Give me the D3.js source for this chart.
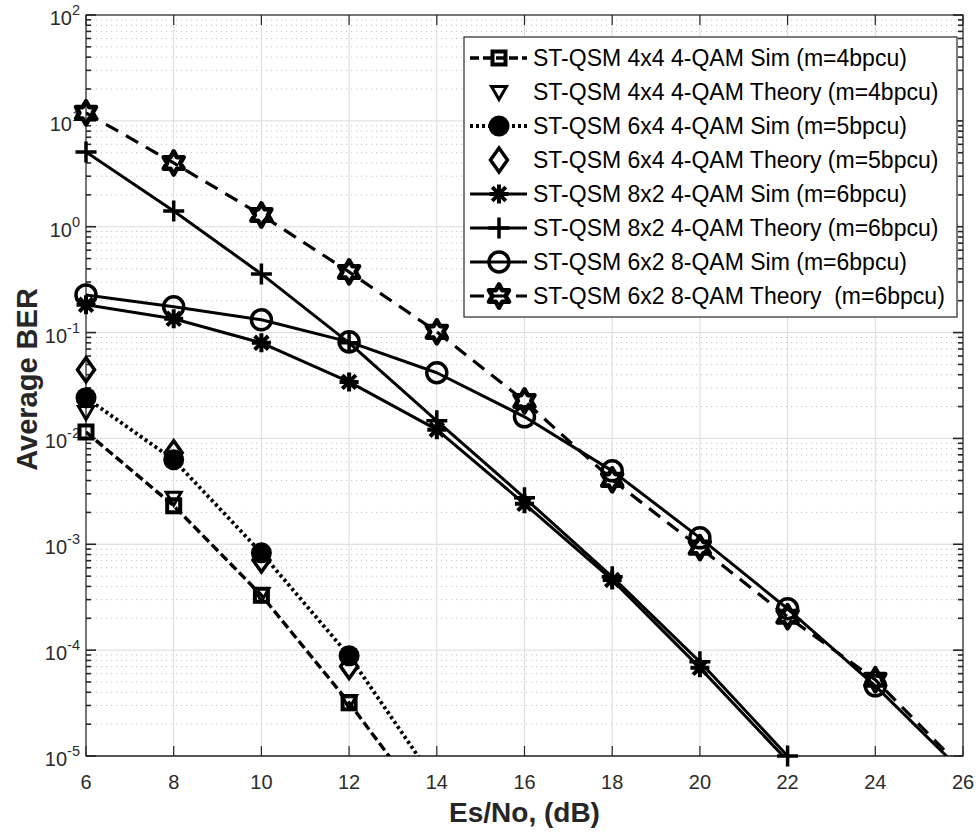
<!DOCTYPE html>
<html>
<head>
<meta charset="utf-8">
<script src="https://cdn.jsdelivr.net/npm/d3@7"></script>
<style>
  body { margin: 0; background: #fff; }
  svg { display: block; }
  text { font-family: "Liberation Sans", Arial, Helvetica, sans-serif; }
</style>
</head>
<body>
<div id="chart"></div>
<script>
// Es/No axis points (dB)
const snr = [6, 8, 10, 12, 14, 16, 18, 20, 22, 24, 26];
const xTicks = [6, 8, 10, 12, 14, 16, 18, 20, 22, 24, 26];
const yTickExps = [-5, -4, -3, -2, -1, 0, 1, 2];

const legendLabels = [
  "ST-QSM 4x4 4-QAM Sim (m=4bpcu)",
  "ST-QSM 4x4 4-QAM Theory (m=4bpcu)",
  "ST-QSM 6x4 4-QAM Sim (m=5bpcu)",
  "ST-QSM 6x4 4-QAM Theory (m=5bpcu)",
  "ST-QSM 8x2 4-QAM Sim (m=6bpcu)",
  "ST-QSM 8x2 4-QAM Theory (m=6bpcu)",
  "ST-QSM 6x2 8-QAM Sim (m=6bpcu)",
  "ST-QSM 6x2 8-QAM Theory  (m=6bpcu)"
];

// Average BER per Es/No point, aligned with snr
const ber4x4Sim    = [0.0115, 0.00231, 3.3e-4, 3.18e-5, 2.5e-6];
const ber4x4Theory = [0.0178, 0.00275, 3.4e-4, 3.3e-5];
const ber6x4Sim    = [0.0242, 0.00628, 8.3e-4, 8.85e-5, 5.5e-6];
const ber6x4Theory = [0.0445, 0.00731, 7.1e-4, 7.0e-5];
const ber8x2Sim    = [0.183, 0.135, 0.080, 0.0342, 0.0121, 0.00241, 4.6e-4, 6.8e-5, 9.0e-6];
const ber8x2Theory = [5.08, 1.41, 0.358, 0.080, 0.01466, 0.00275, 4.93e-4, 7.76e-5, 1.0e-5];
const ber6x2Sim    = [0.227, 0.175, 0.132, 0.0817, 0.0417, 0.016, 0.00494, 0.00115, 2.46e-4, 4.6e-5, 7.0e-6];
const ber6x2Theory = [11.9, 4.0, 1.29, 0.374, 0.1016, 0.0226, 0.00406, 9.3e-4, 2.07e-4, 5.25e-5, 7.5e-6];

const series = [
  { label: legendLabels[0], values: ber4x4Sim,    marker: "square",   line: true,  dash: "9,4",  width: 3.4 },
  { label: legendLabels[1], values: ber4x4Theory, marker: "triDown",  line: false },
  { label: legendLabels[2], values: ber6x4Sim,    marker: "dot",      line: true,  dash: "3,3",  width: 3.8 },
  { label: legendLabels[3], values: ber6x4Theory, marker: "diamond",  line: false },
  { label: legendLabels[4], values: ber8x2Sim,    marker: "asterisk", line: true,  dash: null,   width: 3 },
  { label: legendLabels[5], values: ber8x2Theory, marker: "plus",     line: true,  dash: null,   width: 3 },
  { label: legendLabels[6], values: ber6x2Sim,    marker: "circle",   line: true,  dash: null,   width: 3 },
  { label: legendLabels[7], values: ber6x2Theory, marker: "hexagram", line: true,  dash: "14,9", width: 3.2 }
];

const W = 979, H = 834;
const margin = { left: 86, top: 15, right: 16, bottom: 78 };
const pw = W - margin.left - margin.right;
const ph = H - margin.top - margin.bottom;

const svg = d3.select("#chart").append("svg").attr("width", W).attr("height", H);

const x = d3.scaleLinear().domain([6, 26]).range([margin.left, margin.left + pw]);
const y = d3.scaleLog().domain([1e-5, 1e2]).range([margin.top + ph, margin.top]);

// grid
const grid = svg.append("g");
const minorVals = [];
for (let e = -5; e < 2; e++) for (let k = 2; k <= 9; k++) minorVals.push(k * Math.pow(10, e));

grid.selectAll(".minor").data(minorVals).join("line")
  .attr("x1", margin.left).attr("x2", margin.left + pw)
  .attr("y1", d => y(d)).attr("y2", d => y(d))
  .attr("stroke", "#c4c4c4").attr("stroke-width", 1).attr("stroke-dasharray", "1.2,3.8");

grid.selectAll(".majY").data(yTickExps).join("line")
  .attr("x1", margin.left).attr("x2", margin.left + pw)
  .attr("y1", d => y(Math.pow(10, d))).attr("y2", d => y(Math.pow(10, d)))
  .attr("stroke", "#dcdcdc").attr("stroke-width", 1);

grid.selectAll(".majX").data(xTicks).join("line")
  .attr("x1", d => x(d)).attr("x2", d => x(d))
  .attr("y1", margin.top).attr("y2", margin.top + ph)
  .attr("stroke", "#dcdcdc").attr("stroke-width", 1);

// axes box and ticks
const axes = svg.append("g").attr("stroke", "#262626");
axes.append("rect").attr("x", margin.left).attr("y", margin.top).attr("width", pw).attr("height", ph)
  .attr("fill", "none").attr("stroke-width", 1.2);
axes.append("line").attr("x1", margin.left).attr("x2", margin.left + pw)
  .attr("y1", margin.top + ph).attr("y2", margin.top + ph).attr("stroke", "#555").attr("stroke-width", 2);

const xl = margin.left, xr = margin.left + pw, yt = margin.top, yb = margin.top + ph;
xTicks.forEach(t => {
  axes.append("line").attr("x1", x(t)).attr("x2", x(t)).attr("y1", yb).attr("y2", yb - 10).attr("stroke-width", 1.2);
  axes.append("line").attr("x1", x(t)).attr("x2", x(t)).attr("y1", yt).attr("y2", yt + 10).attr("stroke-width", 1.2);
});
yTickExps.forEach(e => {
  const yy = y(Math.pow(10, e));
  axes.append("line").attr("x1", xl).attr("x2", xl + 10).attr("y1", yy).attr("y2", yy).attr("stroke-width", 1.6);
  axes.append("line").attr("x1", xr).attr("x2", xr - 10).attr("y1", yy).attr("y2", yy).attr("stroke-width", 1.6);
});
minorVals.forEach(v => {
  const yy = y(v);
  axes.append("line").attr("x1", xl).attr("x2", xl + 5).attr("y1", yy).attr("y2", yy).attr("stroke-width", 1.6);
  axes.append("line").attr("x1", xr).attr("x2", xr - 5).attr("y1", yy).attr("y2", yy).attr("stroke-width", 1.6);
});

// tick labels
svg.append("g").selectAll("text").data(xTicks).join("text")
  .attr("x", d => x(d)).attr("y", yb + 33).attr("text-anchor", "middle")
  .attr("font-size", 20).attr("fill", "#2b2b2b").text(d => d);

svg.append("g").selectAll("text").data(yTickExps).join("text")
  .attr("x", margin.left - 6).attr("y", d => y(Math.pow(10, d)) + 10).attr("text-anchor", "end")
  .attr("fill", "#2b2b2b")
  .each(function (d) {
    const t = d3.select(this);
    t.append("tspan").attr("font-size", 20).text("10");
    t.append("tspan").attr("font-size", 14.5).attr("dy", -10).text(String(d));
  });

// axis titles
svg.append("text").attr("x", margin.left + pw / 2).attr("y", 822).attr("text-anchor", "middle")
  .attr("font-size", 28).attr("font-weight", "bold").attr("fill", "#262626").text("Es/No, (dB)");
svg.append("text").attr("transform", `translate(37,${margin.top + ph / 2 - 6}) rotate(-90)`)
  .attr("text-anchor", "middle").attr("font-size", 29).attr("font-weight", "bold")
  .attr("fill", "#262626").text("Average BER");

// marker drawing
function drawMarker(g, kind) {
  const s = g.append("g");
  const st = { stroke: "#000", "stroke-width": 3.5, fill: "none" };
  const apply = sel => { Object.entries(st).forEach(([k, v]) => sel.attr(k, v)); return sel; };
  switch (kind) {
    case "square":
      apply(s.append("rect").attr("x", -6.5).attr("y", -6.5).attr("width", 13).attr("height", 13)).attr("stroke-width", 4);
      break;
    case "triDown":
      apply(s.append("path").attr("d", "M-7.5,-5.5L7.5,-5.5L0,7.5Z")).attr("stroke-width", 3);
      break;
    case "dot":
      s.append("circle").attr("r", 10.5).attr("fill", "#000");
      break;
    case "diamond":
      apply(s.append("path").attr("d", "M0,-12L8.5,0L0,12L-8.5,0Z"));
      break;
    case "asterisk":
      apply(s.append("path").attr("d", "M0,-9.5V9.5M-9.5,0H9.5M-6.8,-6.8L6.8,6.8M-6.8,6.8L6.8,-6.8")).attr("stroke-width", 4);
      break;
    case "plus":
      apply(s.append("path").attr("d", "M0,-10.5V10.5M-10.5,0H10.5"));
      break;
    case "circle":
      apply(s.append("circle").attr("r", 10));
      break;
    case "hexagram": {
      const pts = d3.range(12).map(i => {
        const a = -Math.PI / 2 + i * Math.PI / 6;
        const r = i % 2 === 0 ? 11.5 : 6.6;
        return [r * Math.cos(a), r * Math.sin(a)];
      });
      apply(s.append("path").attr("d", "M" + pts.map(p => p.join(",")).join("L") + "Z"))
        .attr("stroke-width", 4.6).attr("stroke-linejoin", "round");
      break;
    }
  }
  return s;
}

// clip for the lines
svg.append("defs").append("clipPath").attr("id", "plotClip")
  .append("rect").attr("x", margin.left).attr("y", margin.top).attr("width", pw).attr("height", ph);

const plot = svg.append("g");
const lineGen = d3.line().x(d => x(d[0])).y(d => y(d[1]));

series.forEach(sr => {
  const pts = sr.values.map((v, i) => [snr[i], v]);
  const g = plot.append("g");
  if (sr.line) {
    g.append("path").attr("d", lineGen(pts)).attr("clip-path", "url(#plotClip)")
      .attr("fill", "none").attr("stroke", "#000").attr("stroke-width", sr.width)
      .attr("stroke-linejoin", "round")
      .attr("stroke-dasharray", sr.dash);
  }
  pts.filter(p => p[1] >= 1e-5 && p[1] <= 1e2).forEach(p => {
    drawMarker(g, sr.marker).attr("transform", `translate(${x(p[0])},${y(p[1])})`);
  });
});

// legend
const lg = svg.append("g");
const lx = 464, ly = 37, lw = 493, lh = 280, rowH = 34, row0 = 58;
lg.append("rect").attr("x", lx).attr("y", ly).attr("width", lw).attr("height", lh)
  .attr("fill", "#fff").attr("stroke", "#262626").attr("stroke-width", 1.2);
series.forEach((sr, i) => {
  const cy = row0 + i * rowH;
  if (sr.line) {
    lg.append("line").attr("x1", 470).attr("x2", 527).attr("y1", cy).attr("y2", cy)
      .attr("stroke", "#000").attr("stroke-width", sr.width).attr("stroke-dasharray", sr.dash);
  }
  drawMarker(lg, sr.marker).attr("transform", `translate(499,${cy})`);
  lg.append("text").attr("x", 533).attr("y", cy + 8).attr("font-size", 23)
    .attr("fill", "#000").style("white-space", "pre").text(sr.label);
});
</script>
</body>
</html>
